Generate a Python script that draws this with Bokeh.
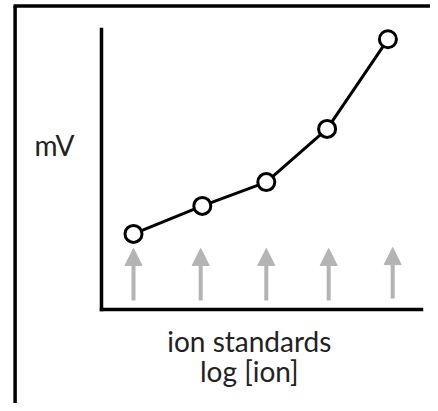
from bokeh.plotting import figure
from bokeh.models import Range1d, Arrow, NormalHead, ColumnDataSource
from bokeh.core.properties import value
from bokeh.embed import file_html
from bokeh.resources import INLINE

# ---- data ----
log_ion = [1.0, 3.15, 5.15, 7.05, 8.95]        # ion standards, log [ion]
mv = [2.7, 3.7, 4.55, 6.45, 9.65]              # measured mV
standard_x = [1.0, 3.1, 5.15, 7.1, 9.1]        # arrow positions of standards
arrow_base = [0.32, 0.32, 0.32, 0.32, 0.39]
arrow_tip = [2.18, 2.18, 2.18, 2.18, 2.21]

x_label_lines = ["ion standards", "log [ion]"]
y_label = "mV"

FONT = "Lato"
TEXT_COLOR = "#222222"
GRAY = "#b4b4b4"

W, H = 430, 403
X0_PX, Y0_PX = 101, 309      # pixel position where the axes meet
SX, SY = 32, 28              # pixels per data unit

p = figure(width=W, height=H, output_backend="svg", toolbar_location=None,
           x_range=Range1d(-X0_PX / SX, (W - X0_PX) / SX),
           y_range=Range1d(-(H - Y0_PX) / SY, Y0_PX / SY),
           x_axis_location=None, y_axis_location=None,
           min_border=0)
p.outline_line_color = None
p.xgrid.visible = False
p.ygrid.visible = False
p.background_fill_color = "white"
p.border_fill_color = "white"

x_lo, x_hi = p.x_range.start, p.x_range.end
y_lo, y_hi = p.y_range.start, p.y_range.end

# outer frame (left and top edges)
p.segment(x0=[-2.70, -2.75], y0=[y_lo, 10.84], x1=[-2.70, x_hi], y1=[10.84, 10.84],
          line_color="black", line_width=3.5)

# the two axes
p.segment(x0=[0, 0], y0=[0, 0], x1=[0, 10], y1=[10, 0],
          line_color="black", line_width=3.5, line_cap="square")

# arrows of the standards
arrow_src = ColumnDataSource(dict(x0=standard_x, y0=arrow_base,
                                  x1=standard_x, y1=arrow_tip))
p.add_layout(Arrow(source=arrow_src, x_start="x0", y_start="y0",
                   x_end="x1", y_end="y1", line_color=GRAY, line_width=4,
                   end=NormalHead(size=17, fill_color=GRAY, line_color=GRAY,
                                  line_width=1)))

# calibration curve
p.line(log_ion, mv, line_color="black", line_width=3)
p.scatter(log_ion, mv, marker="circle", size=17, fill_color="white",
          line_color="black", line_width=3)

# texts
p.text(x=[-1.47], y=[5.86], text=[y_label], text_align="center",
       text_baseline="alphabetic", text_font=value(FONT),
       text_font_size="28px", text_color=TEXT_COLOR)
p.text(x=[4.62, 4.62], y=[-1.11, -2.21], text=x_label_lines,
       text_align="center", text_baseline="alphabetic", text_font=value(FONT),
       text_font_size="28px", text_color=TEXT_COLOR)

open("out.html", "w").write(file_html(p, INLINE))
